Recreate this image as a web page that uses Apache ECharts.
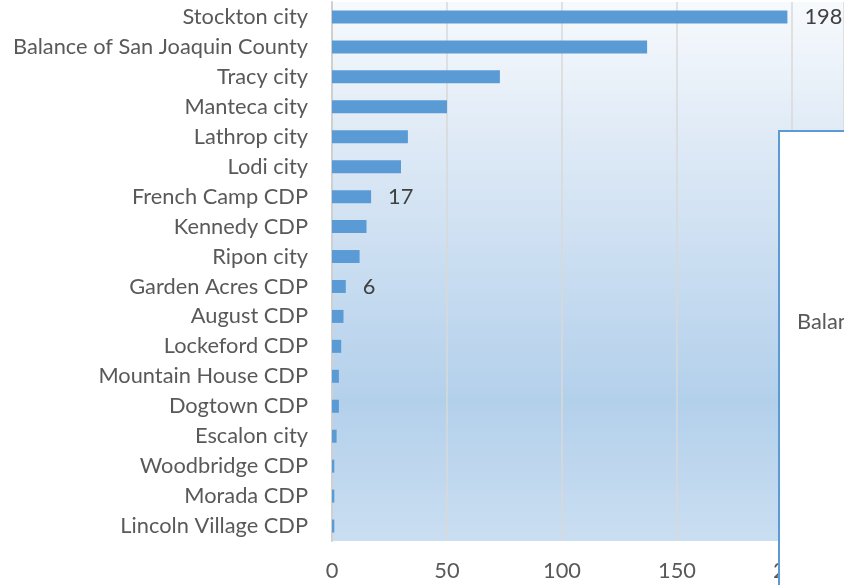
<!DOCTYPE html>
<html>
<head>
<meta charset="utf-8">
<script src="https://cdn.jsdelivr.net/npm/echarts@6/dist/echarts.min.js"></script>
<style>
html,body{margin:0;padding:0;background:#fff;}
#c{width:844px;height:585px;}
</style>
</head>
<body>
<div id="c"></div>
<script>
const categories = ["Stockton city","Balance of San Joaquin County","Tracy city","Manteca city","Lathrop city","Lodi city","French Camp CDP","Kennedy CDP","Ripon city","Garden Acres CDP","August CDP","Lockeford CDP","Mountain House CDP","Dogtown CDP","Escalon city","Woodbridge CDP","Morada CDP","Lincoln Village CDP"];
const values = [198,137,73,50,33,30,17,15,12,6,5,4,3,3,2,1,1,1];
const labeledCategories = ["Stockton city","French Camp CDP","Garden Acres CDP"];
const xMin = 0, xInterval = 50, xMax = 222.6;
const overlayText = "Balance of San Joaquin County";

const FONT = "Lato";
const FS = 21.8;
const chart = echarts.init(document.getElementById('c'), null, {renderer:'canvas'});
chart.setOption({
  animation:false,
  backgroundColor:'#ffffff',
  grid:{
    left:332, top:2, bottom:44, right:0,
    show:true, borderWidth:0,
    backgroundColor:new echarts.graphic.LinearGradient(0,0,0,1,[
      {offset:0,color:'#f7fafd'},
      {offset:0.25,color:'#dfeaf6'},
      {offset:0.74,color:'#b3d0eb'},
      {offset:1,color:'#cadef1'}
    ])
  },
  xAxis:{
    type:'value', min:xMin, max:xMax, interval:xInterval,
    axisLine:{show:false}, axisTick:{show:false},
    splitLine:{show:true,lineStyle:{color:'#d9d9d9',width:1.5}},
    axisLabel:{color:'#595959',fontFamily:FONT,fontSize:FS,margin:19,showMaxLabel:false}
  },
  yAxis:{
    type:'category', data:categories, inverse:true,
    axisLine:{show:true,lineStyle:{color:'#d0d0d0',width:2}},
    axisTick:{show:false},
    axisLabel:{color:'#595959',fontFamily:FONT,fontSize:FS,margin:24}
  },
  series:[{
    type:'bar',
    barWidth:13,
    itemStyle:{color:'#5b9bd5'},
    label:{position:'right',distance:17,color:'#404040',fontFamily:FONT,fontSize:FS},
    data:values.map((v,i)=>({value:v,label:{show:labeledCategories.includes(categories[i])}}))
  }],
  graphic:[
    {type:'rect',z:100,shape:{x:779,y:131,width:80,height:470},style:{fill:'#ffffff',stroke:'#5b9bd5',lineWidth:2}},
    {type:'text',z:101,x:797,y:322,style:{text:overlayText,fill:'#595959',font:FS+'px Lato',verticalAlign:'middle'}}
  ]
});
</script>
</body>
</html>
